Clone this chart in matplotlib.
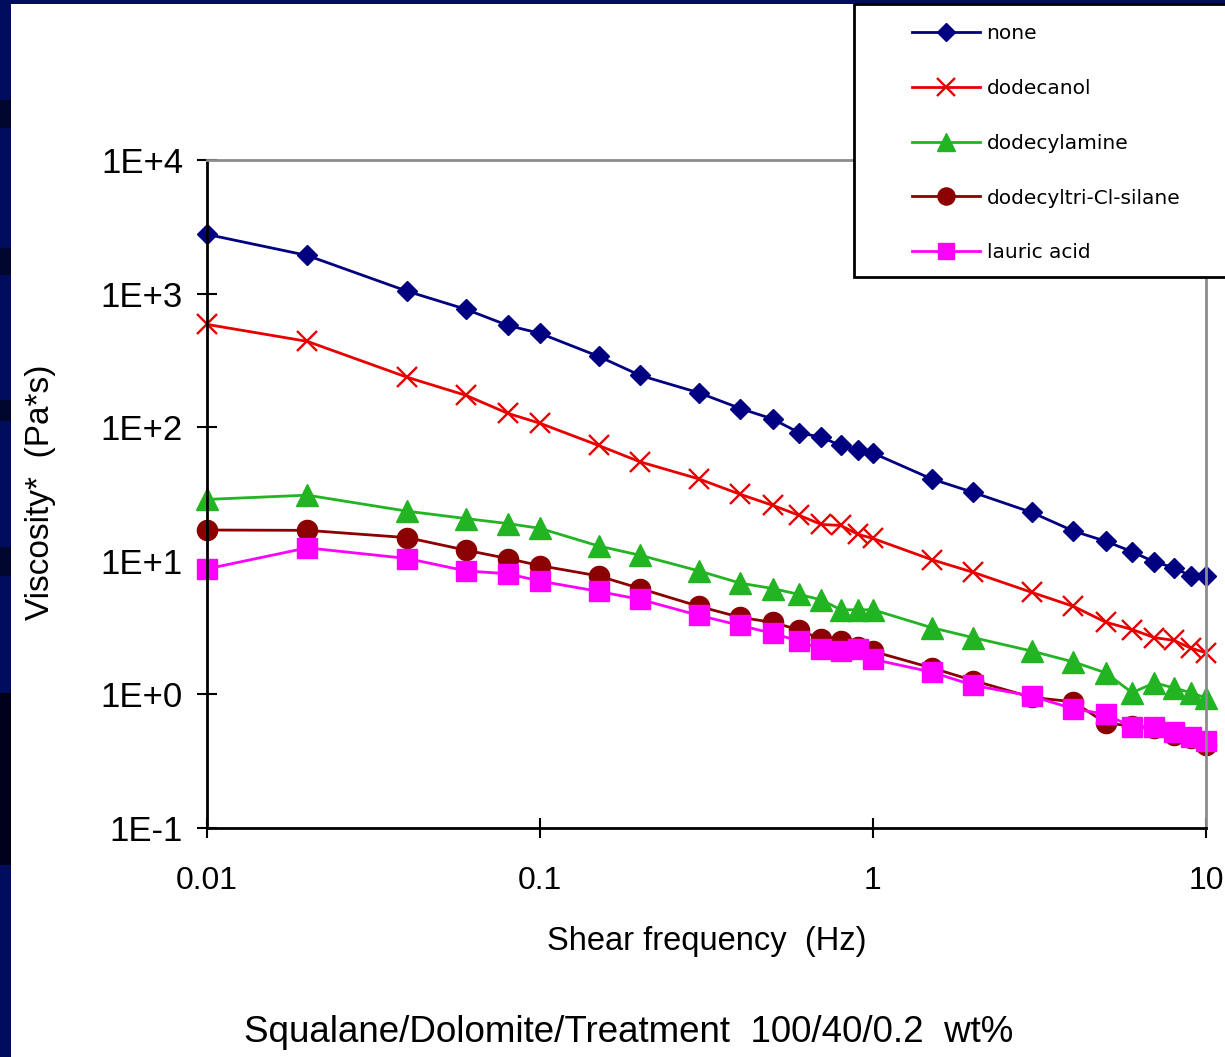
import matplotlib
matplotlib.use("Agg")
import matplotlib.pyplot as plt
from matplotlib.patches import Rectangle
from matplotlib.ticker import FixedLocator, FixedFormatter, NullLocator

# shear frequency (Hz)
freq = [0.01, 0.02, 0.04, 0.06, 0.08, 0.1, 0.15, 0.2, 0.3, 0.4, 0.5, 0.6, 0.7,
        0.8, 0.9, 1, 1.5, 2, 3, 4, 5, 6, 7, 8, 9, 10]

# complex viscosity (Pa*s) per treatment
none = [2775, 1930, 1040, 762, 578, 504, 339, 244, 181, 138, 115, 91, 84,
        73, 67, 64, 41, 32.5, 23, 16.7, 14.0, 11.7, 9.8, 8.9, 7.7, 7.7]
dodecanol = [588, 439, 236, 173, 127, 107, 73, 55, 41, 31.4, 26, 21.9, 18.7,
             18.4, 15.8, 14.7, 10.2, 8.2, 5.8, 4.56, 3.47, 3.06, 2.66, 2.54, 2.22, 2.05]
dodecylamine = [28.8, 31, 23.5, 20.7, 19.0, 17.5, 12.9, 11.0, 8.4, 6.8, 6.2, 5.6, 5.1,
                4.3, 4.3, 4.3, 3.16, 2.66, 2.11, 1.75, 1.45, 1.03, 1.22, 1.12, 1.03, 0.94]
silane = [17.0, 16.9, 14.9, 12.0, 10.4, 9.2, 7.7, 6.2, 4.56, 3.77, 3.46, 3.04, 2.58,
          2.49, 2.25, 2.10, 1.58, 1.27, 0.95, 0.88, 0.61, 0.58, 0.56, 0.50, 0.47, 0.415]
lauric = [8.7, 12.5, 10.4, 8.4, 8.0, 7.05, 5.9, 5.14, 3.90, 3.28, 2.86, 2.51, 2.17,
          2.11, 2.17, 1.83, 1.47, 1.17, 0.97, 0.78, 0.71, 0.57, 0.57, 0.52, 0.48, 0.45]

labels = ["none", "dodecanol", "dodecylamine", "dodecyltri-Cl-silane", "lauric acid"]

x_ticks = [0.01, 0.1, 1, 10]
x_ticklabels = ["0.01", "0.1", "1", "10"]
y_ticks = [0.1, 1, 10, 100, 1000, 10000]
y_ticklabels = ["1E-1", "1E+0", "1E+1", "1E+2", "1E+3", "1E+4"]

FONT = ["Liberation Sans", "DejaVu Sans"]

W, H = 1225, 1057
fig = plt.figure(figsize=(W / 100, H / 100), dpi=100)
fig.patch.set_facecolor("white")

# slide decoration: navy bands on left and top
navy = "#000c5e"
fig.add_artist(Rectangle((0, 0), 11 / W, 1, transform=fig.transFigure,
                         facecolor=navy, edgecolor="none"))
for y0, y1, c in [(100, 128, "#00062e"), (248, 275, "#00062e"), (400, 421, "#00062e"),
                  (547, 576, "#00062e"), (693, 865, "#00001a")]:
    fig.add_artist(Rectangle((0, 1 - y1 / H), 11 / W, (y1 - y0) / H,
                             transform=fig.transFigure, facecolor=c, edgecolor="none"))
fig.add_artist(Rectangle((0, 1 - 4 / H), 1, 4 / H, transform=fig.transFigure,
                         facecolor=navy, edgecolor="none"))

ax = fig.add_axes([207 / W, 1 - 828 / H, 999 / W, 668 / H])
ax.set_xscale("log")
ax.set_yscale("log")
ax.set_xlim(0.01, 10)
ax.set_ylim(0.1, 10000)

series = [
    (none, "#000080", "D", 10.5, dict()),
    (dodecanol, "#e80000", "x", 15, dict(markeredgewidth=1.7)),
    (dodecylamine, "#22b422", "^", 15.5, dict()),
    (silane, "#8b0000", "o", 14.5, dict()),
    (lauric, "#ff00ff", "s", 14, dict()),
]

for (vals, col, mk, ms, extra), lab in zip(series, labels):
    ax.plot(freq, vals, color=col, lw=2, marker=mk, markersize=ms,
            markerfacecolor=col, markeredgecolor=col, label=lab, clip_on=False, **extra)

ax.xaxis.set_major_locator(FixedLocator(x_ticks))
ax.xaxis.set_major_formatter(FixedFormatter(x_ticklabels))
ax.xaxis.set_minor_locator(NullLocator())
ax.yaxis.set_major_locator(FixedLocator(y_ticks))
ax.yaxis.set_major_formatter(FixedFormatter(y_ticklabels))
ax.yaxis.set_minor_locator(NullLocator())

ax.tick_params(axis="both", direction="inout", length=14.4, width=1.5, color="black")
ax.tick_params(axis="x", pad=20)
ax.tick_params(axis="y", pad=10)
for t in ax.get_xticklabels():
    t.set_family(FONT)
    t.set_fontsize(23)
for t in ax.get_yticklabels():
    t.set_family(FONT)
    t.set_fontsize(25)

for s in ["left", "bottom"]:
    ax.spines[s].set_color("black")
    ax.spines[s].set_linewidth(2)
for s in ["top", "right"]:
    ax.spines[s].set_color("#8c8c8c")
    ax.spines[s].set_linewidth(2)

ax.set_xlabel("Shear frequency  (Hz)", family=FONT, fontsize=23.5)
ax.xaxis.set_label_coords(0.5, -0.146)
fig.text(41 / W, 1 - 492 / H, "Viscosity*  (Pa*s)", family=FONT, fontsize=24,
         rotation=90, ha="center", va="center")

fig.text(629 / W, 1 - 1033 / H, "Squalane/Dolomite/Treatment  100/40/0.2  wt%",
         family=FONT, fontsize=26.5, ha="center", va="center")

# legend box sticking out of the top-right corner
fig.add_artist(Rectangle((854 / W, 1 - 277 / H), 420 / W, 273 / H, transform=fig.transFigure,
                         facecolor="white", edgecolor="black", linewidth=2, zorder=5))
leg = fig.legend(loc="upper left", bbox_to_anchor=(912 / W, 1 - 24 / H), frameon=False,
                 borderpad=0, borderaxespad=0, handlelength=3.4, handletextpad=0.3,
                 labelspacing=1.78, prop={"family": "DejaVu Sans", "size": 14.5})
leg.set_zorder(6)
for h in leg.legend_handles:
    h.set_markersize(h.get_markersize() * 0.85)

fig.savefig("out.png", dpi=100)
